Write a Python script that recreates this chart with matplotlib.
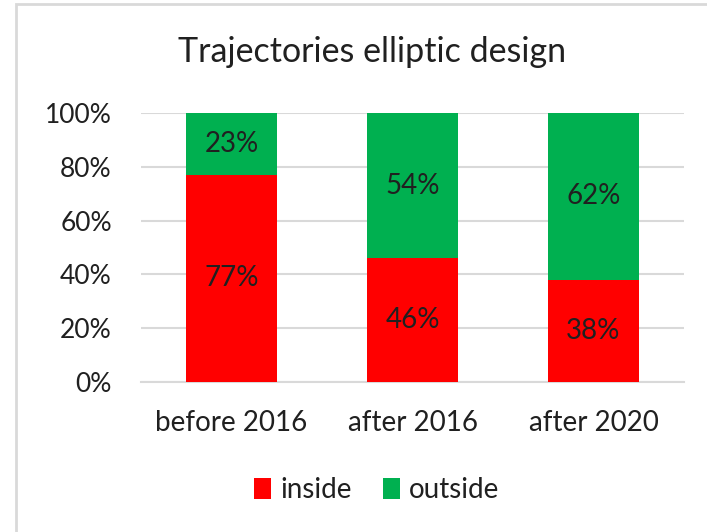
import numpy as np
import matplotlib.pyplot as plt
from matplotlib.patches import Rectangle

categories = ["before 2016", "after 2016", "after 2020"]
inside = [77, 46, 38]
outside = [23, 54, 62]
yticks = [0, 20, 40, 60, 80, 100]

plt.rcParams['font.family'] = ['Lato', 'DejaVu Sans']

fig = plt.figure(figsize=(7.07, 5.32), dpi=100)
ax = fig.add_axes([141/707, 1-382/532, 543/707, 269/532])

# cornice grigia del grafico (come in Excel)
fig.patches.append(Rectangle((16/707, -0.1), 1.2, 1-4/532+0.1, transform=fig.transFigure,
                             fill=False, edgecolor="#D9D9D9", linewidth=2))

x = np.arange(len(categories))
ax.bar(x, inside, width=0.5, color="#FF0000", label="inside", zorder=3)
ax.bar(x, outside, width=0.5, bottom=inside, color="#00B050", label="outside", zorder=3)

for i in range(len(x)):
    ax.text(x[i], inside[i]/2, f"{inside[i]}%", ha="center", va="center", fontsize=20, color="#202020", zorder=4)
    ax.text(x[i], inside[i] + outside[i]/2, f"{outside[i]}%", ha="center", va="center", fontsize=20, color="#202020", zorder=4)

ax.set_xlim(-0.5, 2.5)
ax.set_ylim(0, 100)
ax.set_yticks(yticks)
ax.set_yticklabels([f"{t}%" for t in yticks], fontsize=19, color="#202020")
ax.set_xticks(x)
ax.set_xticklabels(categories, fontsize=20, color="#202020")
ax.tick_params(length=0)
ax.tick_params(axis="y", pad=21)
ax.tick_params(axis="x", pad=20)
ax.grid(axis="y", color="#D9D9D9", linewidth=1.5, zorder=0)
for s in ["top", "right", "left"]:
    ax.spines[s].set_visible(False)
ax.spines["bottom"].set_color("#D9D9D9")
ax.spines["bottom"].set_linewidth(1.5)

fig.text(372/707, 1-52/532, "Trajectories elliptic design", ha="center", va="center", fontsize=24.5, color="#202020")

fig.legend(loc="center", bbox_to_anchor=(377/707, 1-490/532), ncol=2, frameon=False, fontsize=20,
           handlelength=0.6, handleheight=0.8, handletextpad=0.35, columnspacing=1.1,
           labelcolor="#202020")

fig.savefig("out.png", dpi=100)
